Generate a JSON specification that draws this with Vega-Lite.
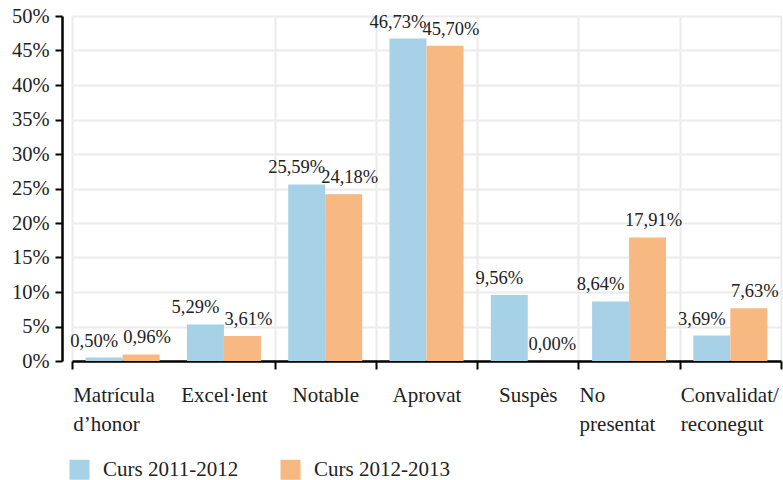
{
  "$schema": "https://vega.github.io/schema/vega-lite/v6.json",
  "width": 709,
  "height": 345,
  "autosize": "none",
  "padding": {"left": 72, "top": 16, "right": 2, "bottom": 119},
  "background": "white",
  "config": {"view": {"stroke": null}, "font": "Liberation Serif"},
  "data": {
    "values": [
      {"cat": "Matrícula d’honor", "curs": "Curs 2011-2012", "val": 0.50, "label": "0,50%"},
      {"cat": "Matrícula d’honor", "curs": "Curs 2012-2013", "val": 0.96, "label": "0,96%"},
      {"cat": "Excel·lent", "curs": "Curs 2011-2012", "val": 5.29, "label": "5,29%"},
      {"cat": "Excel·lent", "curs": "Curs 2012-2013", "val": 3.61, "label": "3,61%"},
      {"cat": "Notable", "curs": "Curs 2011-2012", "val": 25.59, "label": "25,59%"},
      {"cat": "Notable", "curs": "Curs 2012-2013", "val": 24.18, "label": "24,18%"},
      {"cat": "Aprovat", "curs": "Curs 2011-2012", "val": 46.73, "label": "46,73%"},
      {"cat": "Aprovat", "curs": "Curs 2012-2013", "val": 45.70, "label": "45,70%"},
      {"cat": "Suspès", "curs": "Curs 2011-2012", "val": 9.56, "label": "9,56%"},
      {"cat": "Suspès", "curs": "Curs 2012-2013", "val": 0.00, "label": "0,00%"},
      {"cat": "No presentat", "curs": "Curs 2011-2012", "val": 8.64, "label": "8,64%"},
      {"cat": "No presentat", "curs": "Curs 2012-2013", "val": 17.91, "label": "17,91%"},
      {"cat": "Convalidat/reconegut", "curs": "Curs 2011-2012", "val": 3.69, "label": "3,69%"},
      {"cat": "Convalidat/reconegut", "curs": "Curs 2012-2013", "val": 7.63, "label": "7,63%"}
    ]
  },
  "encoding": {
    "x": {
      "field": "cat",
      "type": "nominal",
      "sort": null,
      "scale": {"paddingInner": 0, "paddingOuter": 0},
      "axis": {
        "title": null,
        "labelAngle": 0,
        "tickBand": "extent",
        "grid": true,
        "gridColor": "#ebebeb",
        "gridWidth": 2,
        "gridOpacity": {"condition": {"test": "datum.value == 'Matrícula d’honor'", "value": 0}, "value": 1},
        "tickOpacity": {"condition": {"test": "datum.value == 'Matrícula d’honor'", "value": 0}, "value": 1},
        "domainColor": "#000",
        "domainWidth": 2.5,
        "tickColor": "#000",
        "tickWidth": 2,
        "tickSize": 8,
        "labelFontSize": 21,
        "labelColor": "#222",
        "labelPadding": 15,
        "labelLineHeight": 29,
        "labelExpr": "datum.value == 'Matrícula d’honor' ? ['Matrícula', 'd’honor'] : datum.value == 'No presentat' ? ['No', 'presentat'] : datum.value == 'Convalidat/reconegut' ? ['Convalidat/', 'reconegut'] : datum.value",
        "labelAlign": {"condition": {"test": "indexof(['Matrícula d’honor', 'No presentat', 'Convalidat/reconegut'], datum.value) >= 0", "value": "left"}, "value": "center"},
        "labelOffset": {"condition": {"test": "indexof(['Matrícula d’honor', 'No presentat', 'Convalidat/reconegut'], datum.value) >= 0", "value": -50}, "value": 0}
      }
    },
    "y": {
      "field": "val",
      "type": "quantitative",
      "scale": {"domain": [0, 50], "nice": false},
      "axis": {
        "title": null,
        "values": [0, 5, 10, 15, 20, 25, 30, 35, 40, 45, 50],
        "labelExpr": "datum.value + '%'",
        "offset": 10,
        "domainColor": "#000",
        "domainWidth": 2.5,
        "tickColor": "#000",
        "tickWidth": 2,
        "tickSize": 7,
        "labelPadding": 6,
        "labelFontSize": 20.5,
        "labelColor": "#222",
        "grid": true,
        "gridColor": "#ebebeb",
        "gridWidth": 2
      }
    }
  },
  "layer": [
    {
      "mark": {"type": "bar"},
      "encoding": {
        "xOffset": {"field": "curs", "type": "nominal", "scale": {"paddingInner": 0, "paddingOuter": 0.369}},
        "color": {
          "field": "curs",
          "type": "nominal",
          "scale": {"domain": ["Curs 2011-2012", "Curs 2012-2013"], "range": ["#a6d1e7", "#f7b882"]},
          "legend": {
            "orient": "none",
            "legendX": -3,
            "legendY": 443,
            "direction": "horizontal",
            "title": null,
            "symbolType": "square",
            "symbolSize": 400,
            "symbolStrokeWidth": 0,
            "labelFontSize": 21,
            "labelColor": "#222",
            "labelOffset": 13,
            "columnPadding": 41
          }
        }
      }
    },
    {
      "transform": [{"filter": "datum.curs == 'Curs 2011-2012'"}],
      "mark": {"type": "text", "fontSize": 18.5, "baseline": "alphabetic", "dy": -11, "dx": -10, "color": "#222"},
      "encoding": {
        "xOffset": {"field": "curs", "type": "nominal"},
        "text": {"field": "label"}
      }
    },
    {
      "transform": [{"filter": "datum.curs == 'Curs 2012-2013'"}],
      "mark": {"type": "text", "fontSize": 18.5, "baseline": "alphabetic", "dy": -11, "dx": 6, "color": "#222"},
      "encoding": {
        "xOffset": {"field": "curs", "type": "nominal"},
        "text": {"field": "label"}
      }
    }
  ]
}
